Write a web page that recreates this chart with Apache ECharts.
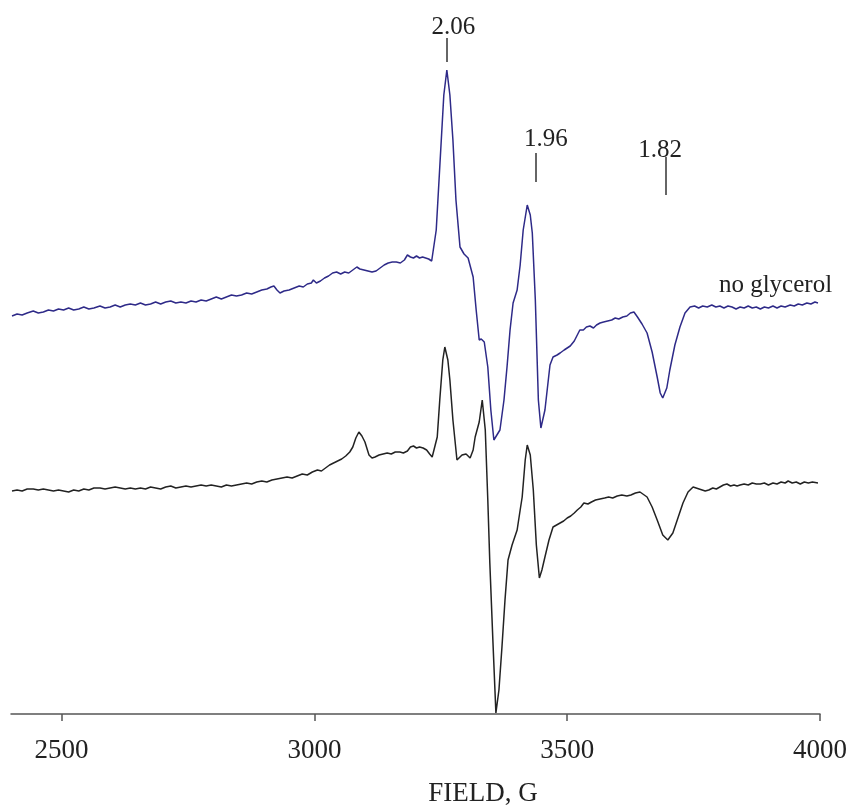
<!DOCTYPE html>
<html>
<head>
<meta charset="utf-8">
<script src="https://cdn.jsdelivr.net/npm/echarts@6/dist/echarts.min.js"></script>
<style>html,body{margin:0;padding:0;background:#fff}#c{width:853px;height:807px}</style>
</head>
<body>
<div id="c"></div>
<script>
// Magnetic field (G) and EPR intensity (arbitrary units)
var blueField = [2402,2412,2422,2432,2444,2454,2464,2474,2484,2494,2504,2514,2524,2534,2544,2554,2564,2576,2586,2596,2606,2616,2626,2636,2646,2656,2666,2676,2686,2696,2706,2716,2726,2736,2746,2756,2766,2776,2786,2796,2806,2816,2826,2836,2846,2856,2866,2876,2886,2896,2906,2914,2920,2926,2932,2940,2950,2960,2970,2978,2986,2994,2998,3004,3012,3020,3028,3036,3044,3052,3060,3068,3076,3084,3090,3098,3106,3114,3122,3130,3138,3146,3154,3162,3170,3178,3184,3190,3196,3202,3208,3214,3220,3226,3232,
3241,3248,3256,3262,3268,3274,3280,3288,3296,3304,3314,3320,3326,3330,3336,3343,3349,3355,3361,3367,3375,3381,3387,3393,3401,3407,3413,3421,3427,3431,3437,3443,3448,3456,
3466,3472,3480,3486,3494,3500,3506,3514,3520,3525,3532,3538,3545,3552,3558,3565,3572,3580,3588,3595,3602,3610,3618,3625,3632,3639,3648,3658,3668,3678,3684,3689,3697,3703,3713,3723,3733,
3743,3752,3760,3768,3777,3786,3794,3802,3810,3818,3826,3834,3842,3850,3858,3866,3874,3882,3890,3898,3907,3915,3923,3931,3941,3949,3957,3965,3974,3982,3990,3996];
var blueValue = [398,400,399,401,403,401,402,404,403,405,404,406,404,405,407,405,406,408,406,407,409,407,409,410,409,411,409,410,412,410,412,413,411,412,411,413,412,414,413,415,417,415,417,419,418,419,421,420,422,424,425,427,428,424,421,423,424,426,428,427,430,431,434,431,433,436,438,441,442,440,442,441,444,447,445,444,443,442,443,446,449,451,452,452,451,454,459,457,456,458,456,457,456,455,453,
484,547,619,644,619,574,514,467,460,456,437,404,374,375,372,347,304,274,279,284,314,347,384,411,424,449,484,509,499,481,414,314,286,304,
349,357,359,361,364,366,368,373,379,384,384,387,388,386,389,391,392,393,394,396,395,397,398,401,402,397,390,381,362,337,321,316,326,344,369,387,401,
407,408,406,408,407,409,407,408,406,408,407,405,407,406,408,406,407,405,407,406,408,406,408,407,409,408,410,409,411,410,412,411];

var blackField = [2402,2412,2422,2432,2444,2454,2464,2474,2484,2494,2504,2514,2524,2534,2544,2554,2564,2576,2586,2596,2606,2616,2626,2636,2646,2656,2666,2676,2686,2696,2706,2716,2726,2736,2746,2756,2766,2776,2786,2796,2806,2816,2826,2836,2846,2856,2866,2876,2886,2896,2906,2916,2926,2936,2946,2956,2966,2976,2986,2996,3006,3014,3022,3030,3038,3046,3054,3062,3070,3076,3082,3088,3094,3100,3108,3114,3120,3128,3136,3144,3152,3160,3169,3176,3184,3190,3196,3202,3208,3215,3222,3228,3233,
3239,3243,3248,3254,3258,3264,3268,3274,3282,3292,3300,3308,3314,3318,3326,3332,3338,3343,3347,3353,3359,3365,3371,3377,3383,3391,3401,3407,3411,3417,3421,3427,3433,3439,3445,3450,3456,3464,3472,
3486,3493,3500,3507,3514,3520,3527,3533,3541,3548,3556,3565,3574,3582,3590,3599,3608,3618,3626,3635,3644,3658,3668,3678,3689,3699,3709,3719,3729,3739,
3749,3755,3761,3767,3773,3780,3788,3795,3802,3809,3816,3823,3830,3836,3842,3850,3858,3866,3874,3882,3890,3898,3907,3915,3923,3931,3937,3945,3953,3961,3969,3977,3985,3996];
var blackValue = [223,224,223,225,225,224,225,224,223,224,223,222,224,223,225,224,226,226,225,226,227,226,225,226,225,226,225,227,226,225,227,228,226,227,228,227,228,229,228,229,228,227,229,228,229,230,231,230,232,233,232,234,235,236,237,236,238,240,239,242,244,243,246,249,251,253,255,258,262,267,276,282,278,272,259,256,257,259,260,261,260,262,262,261,263,267,268,266,267,266,264,260,257,
269,277,314,354,367,354,334,294,254,259,260,256,264,277,292,314,284,214,151,74,1,24,67,114,154,169,184,204,217,254,269,259,224,169,136,144,157,174,187,
191,193,196,198,201,204,207,211,210,212,214,215,216,217,216,218,219,218,219,221,222,217,207,194,179,174,181,196,211,222,
227,226,225,224,223,224,226,225,227,229,230,228,229,228,229,230,229,231,230,230,231,229,231,230,232,231,233,231,232,230,232,231,232,231];

// g-value annotations
var gText = ['2.06', '1.96', '1.82'];
var gTextField = [3275, 3458, 3684];
var gTextValue = [687, 575, 564];
var gTickField = [3262, 3437, 3694];
var gTickLow = [652, 532, 519];
var gTickHigh = [676, 561, 557];
var seriesLabel = 'no glycerol';
var seriesLabelField = 3912;
var seriesLabelValue = 429;
var xTicks = [2500, 3000, 3500, 4000];

function zip(a, b) { return a.map(function (v, i) { return [v, b[i]]; }); }

var serif = '"Liberation Serif", "Times New Roman", serif';
var chart = echarts.init(document.getElementById('c'));
chart.setOption({
  animation: false,
  grid: { left: 11, right: 33, top: 0, bottom: 93, containLabel: false, outerBoundsMode: 'none' },
  xAxis: {
    type: 'value', min: 2400, max: 4000, interval: 100,
    name: 'FIELD, G', nameLocation: 'middle', nameGap: 66,
    nameTextStyle: { fontFamily: serif, fontSize: 27, color: '#222', padding: [0, 0, 0, 135] },
    axisLine: { show: true, lineStyle: { color: '#555', width: 1.5 } },
    axisTick: { show: true, inside: false, length: 7, customValues: xTicks, lineStyle: { color: '#555', width: 1.5 } },
    axisLabel: { customValues: xTicks, margin: 23, fontFamily: serif, fontSize: 27, color: '#222',
                 formatter: function (v) { return String(v); } },
    splitLine: { show: false }
  },
  yAxis: { type: 'value', min: 0, max: 714, show: false, splitLine: { show: false } },
  series: [
    {
      type: 'line', data: zip(blackField, blackValue), showSymbol: false, clip: false,
      lineStyle: { color: '#222', width: 1.5 }, z: 2,
      markLine: {
        silent: true, symbol: ['none', 'none'], animation: false,
        lineStyle: { color: '#333', width: 1.5, type: 'solid' }, label: { show: false },
        data: gTickField.map(function (f, i) { return [{ coord: [f, gTickLow[i]] }, { coord: [f, gTickHigh[i]] }]; })
      },
      markPoint: {
        silent: true, symbol: 'circle', symbolSize: 1, animation: false,
        itemStyle: { color: 'rgba(0,0,0,0)' },
        label: { show: true, position: 'inside', fontFamily: serif, fontSize: 25, color: '#222',
                 formatter: function (p) { return p.name; } },
        data: gText.map(function (t, i) { return { name: t, coord: [gTextField[i], gTextValue[i]] }; })
          .concat([{ name: seriesLabel, coord: [seriesLabelField, seriesLabelValue] }])
      }
    },
    {
      type: 'line', data: zip(blueField, blueValue), showSymbol: false,
      lineStyle: { color: '#2e2a88', width: 1.5 }, z: 3
    }
  ]
});
</script>
</body>
</html>
